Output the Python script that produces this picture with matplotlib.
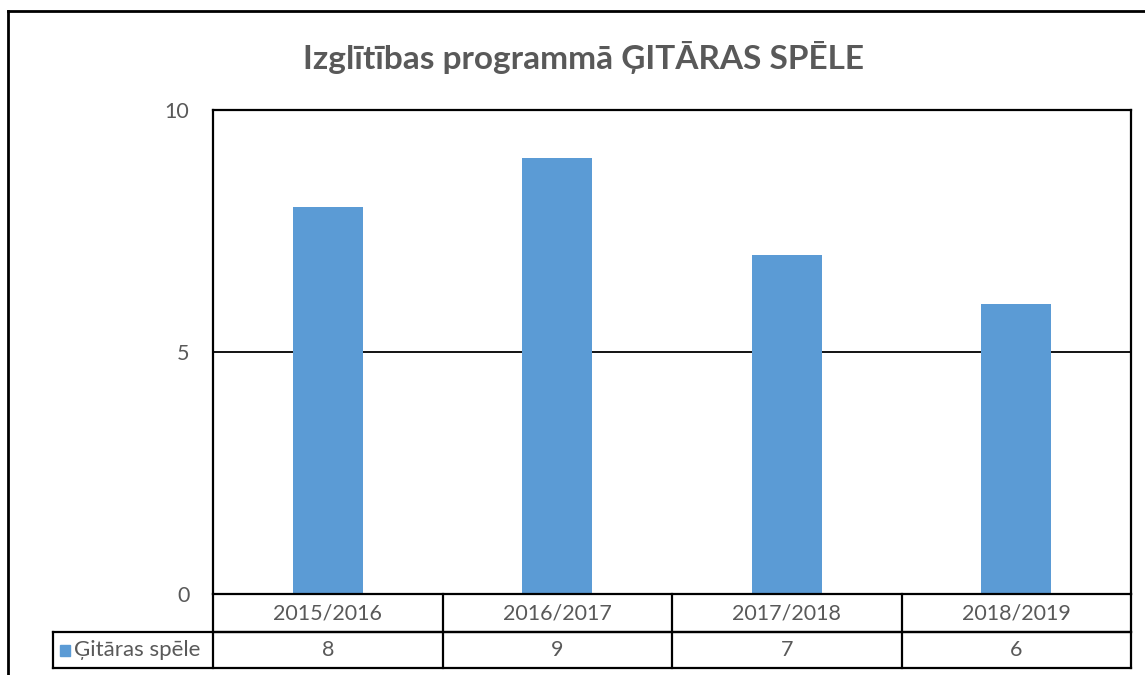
import matplotlib
matplotlib.use("Agg")
import matplotlib.pyplot as plt
from matplotlib.patches import Rectangle
from matplotlib.lines import Line2D

categories = ["2015/2016", "2016/2017", "2017/2018", "2018/2019"]
values = [8, 9, 7, 6]
series_name = "Ģitāras spēle"
title = "Izglītības programmā ĢITĀRAS SPĒLE"
yticks = [0, 5, 10]

W, H = 1145, 675
BLUE = "#5B9BD5"
GRAY = "#595959"
FONT = ["Lato", "DejaVu Sans"]
FS = 15.5

fig = plt.figure(figsize=(W / 100, H / 100), dpi=100)
fig.patch.set_facecolor("white")

def fx(px):
    return px / W

def fy(py):
    return 1 - py / H

L, R, T, B = 213, 1131, 110, 594
ax = fig.add_axes([fx(L), fy(B), fx(R) - fx(L), fy(T) - fy(B)])
x = list(range(len(categories)))
ax.bar(x, values, width=0.305, color=BLUE, zorder=2)
ax.set_xlim(-0.5, len(categories) - 0.5)
ax.set_ylim(0, 10)
ax.set_yticks(yticks)
ax.set_yticklabels([str(t) for t in yticks], fontsize=FS, color=GRAY, family=FONT)
ax.tick_params(axis="y", length=0, pad=17)
ax.set_xticks([])
for s in ax.spines.values():
    s.set_linewidth(1.6)
    s.set_color("black")
for t in yticks:
    ax.axhline(t, color="black", lw=1.3, zorder=1)

# data table under the plot
ph = B - T
r1 = -(632 - B) / ph
r2 = -(668 - B) / ph
lk = dict(color="black", lw=1.6, clip_on=False, transform=ax.transAxes)
xl = (53 - L) / (R - L)
ax.add_line(Line2D([0, 1], [r1, r1], **lk))
ax.add_line(Line2D([xl, 1], [r2, r2], **lk))
ax.add_line(Line2D([xl, 1], [r1, r1], **lk))
ax.add_line(Line2D([xl, xl], [r1, r2], **lk))
ax.add_line(Line2D([1, 1], [0, r2], **lk))
ax.add_line(Line2D([0, 0], [0, r2], **lk))
trans = ax.get_xaxis_transform()
for i in range(1, len(categories)):
    ax.add_line(Line2D([i - 0.5, i - 0.5], [0, r2], color="black", lw=1.6,
                       clip_on=False, transform=trans))
for i, (c, v) in enumerate(zip(categories, values)):
    ax.text(i, r1 / 2, c, transform=trans, ha="center", va="center",
            fontsize=FS, color=GRAY, family=FONT, clip_on=False)
    ax.text(i, (r1 + r2) / 2, str(v), transform=trans, ha="center", va="center",
            fontsize=FS, color=GRAY, family=FONT, clip_on=False)

# legend key
fig.patches.append(Rectangle((fx(60), fy(656)), fx(70) - fx(60), fy(645) - fy(656),
                             transform=fig.transFigure, color=BLUE))
fig.text(fx(74), fy(650), series_name, ha="left", va="center", fontsize=FS + 0.5,
         color=GRAY, family=FONT)

# outer frame (left + top visible)
fig.add_artist(Line2D([fx(8), fx(8)], [fy(11), 0], color="black", lw=2,
                      transform=fig.transFigure))
fig.add_artist(Line2D([fx(8), 1], [fy(11), fy(11)], color="black", lw=2,
                      transform=fig.transFigure))

fig.text(fx(583), fy(57), title, ha="center", va="center", fontsize=24,
         fontweight="bold", color=GRAY, family=FONT)

fig.savefig("out.png", dpi=100)
